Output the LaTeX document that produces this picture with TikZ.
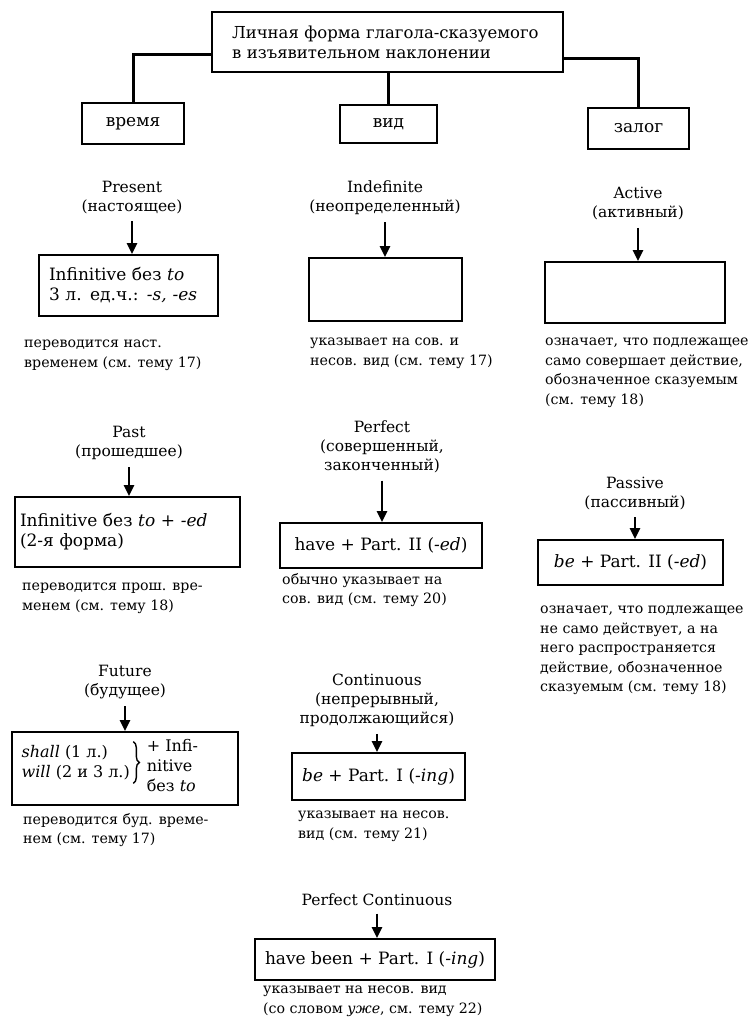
\documentclass[tikz,border=0pt]{standalone}
\usepackage{fontspec}
\setmainfont{DejaVu Serif}
\usetikzlibrary{arrows.meta,decorations.pathreplacing}

\tikzset{
  box/.style={draw, line width=1.8pt, inner xsep=10pt, inner ysep=0pt, font=\fontsize{17}{20}\selectfont},
  link/.style={line width=3pt},
  arr/.style={line width=2.4pt, shorten <=4pt, -{Triangle[length=11pt,width=10pt]}},
  lbl/.style={align=center, font=\fontsize{15.5}{19}\selectfont},
  desc/.style={anchor=north west, align=left, inner sep=0pt},
  intext/.style={anchor=west, align=left, font=\fontsize{16}{20}\selectfont},
}

\begin{document}
\begin{tikzpicture}[x=1pt,y=-1pt, every node/.style={font=\fontsize{14.2}{19.5}\selectfont}]
\useasboundingbox (0,0) rectangle (750,1032);

\node[box, minimum width=351pt, minimum height=60pt, text width=311pt, inner xsep=20pt, align=left, font=\fontsize{16.5}{20}\selectfont] (top) at (387.5,42) {Личная форма глагола-сказуемого\\в изъявительном наклонении};
\node[box, minimum width=102pt, minimum height=41pt] (vremya) at (133,123.5) {время};
\node[box, minimum width=97pt, minimum height=38pt] (vid) at (388.5,124) {вид};
\node[box, minimum width=101pt, minimum height=41pt] (zalog) at (638.5,128.5) {залог};
\draw[link] ([yshift=-13pt]top.west) -| (vremya.north);
\draw[link] ([yshift=-17pt]top.east) -| (zalog.north);
\draw[link] (top.south -| vid.north) -- (vid.north);

% время
\node[lbl] (present) at (132,197.5) {Present\\(настоящее)};
\node[box, minimum width=179pt, minimum height=61pt, text width=159pt, align=left] (presbox) at (128.5,285.5) {Infinitive без \textit{to}\\3 л. ед.ч.: \textit{-s, -es}};
\draw[arr] (present.south) -- (present.south |- presbox.north);
\node[desc] (presdesc) at (24,340) {переводится наст.\\временем (см. тему 17)};

\node[lbl] (past) at (129,443) {Past\\(прошедшее)};
\node[box, minimum width=225pt, minimum height=70pt, text width=215pt, inner xsep=5pt, align=left] (pastbox) at (127.5,532) {Infinitive без \textit{to} + \textit{-ed}\\(2-я форма)};
\draw[arr] (past.south) -- (past.south |- pastbox.north);
\node[desc] (pastdesc) at (22,583) {переводится прош. вре-\\менем (см. тему 18)};

\node[lbl] (future) at (125,682) {Future\\(будущее)};
\node[box, minimum width=226pt, minimum height=73pt] (futbox) at (125,768.5) {};
\node[intext] (futl) at ([xshift=7pt,yshift=6pt]futbox.west) {\textit{shall} (1 л.)\\\textit{will} (2 и 3 л.)};
\draw[line width=1.4pt, decorate, decoration={brace, amplitude=6pt}] (futl.north east) -- (futl.south east);
\node[intext] (futr) at ([xshift=10pt,yshift=3pt]futl.east |- futbox.west) {+ Infi-\\nitive\\без \textit{to}};
\draw[arr] (future.south) -- (future.south |- futbox.north);
\node[desc] (futdesc) at (23,813) {переводится буд. време-\\нем (см. тему 17)};

% вид
\node[lbl] (indef) at (385,197.5) {Indefinite\\(неопределенный)};
\node[box, minimum width=153pt, minimum height=63pt] (indefbox) at (385.5,289.5) {};
\draw[arr] (indef.south) -- (indef.south |- indefbox.north);
\node[desc] (indefdesc) at (310,338) {указывает на сов. и\\несов. вид (см. тему 17)};

\node[lbl] (perf) at (382,447) {Perfect\\(совершенный,\\законченный)};
\node[box, minimum width=202pt, minimum height=45pt] (perfbox) at (381,545.5) {have + Part. II (\textit{-ed})};
\draw[arr] (perf.south) -- (perf.south |- perfbox.north);
\node[desc] (perfdesc) at (282,573) {обычно указывает на\\сов. вид (см. тему 20)};

\node[lbl] (cont) at (377,700) {Continuous\\(непрерывный,\\продолжающийся)};
\node[box, minimum width=163pt, minimum height=47pt] (contbox) at (378.5,776.5) {\textit{be} + Part. I (\textit{-ing})};
\draw[arr] (cont.south) -- (cont.south |- contbox.north);
\node[desc] (contdesc) at (298,811) {указывает на несов.\\вид (см. тему 21)};

\node[lbl] (perfcont) at (377,900) {Perfect Continuous};
\node[box, minimum width=226pt, minimum height=41pt] (pcbox) at (375,959.5) {have been + Part. I (\textit{-ing})};
\draw[arr] (perfcont.south) -- (perfcont.south |- pcbox.north);
\node[desc] (pcdesc) at (263,986) {указывает на несов. вид\\(со словом \textit{уже}, см. тему 22)};

% залог
\node[lbl] (active) at (638,204) {Active\\(активный)};
\node[box, minimum width=180pt, minimum height=61pt] (actbox) at (635,292.5) {};
\draw[arr] (active.south) -- (active.south |- actbox.north);
\node[desc] (actdesc) at (545,338) {означает, что подлежащее\\само совершает действие,\\обозначенное сказуемым\\(см. тему 18)};

\node[lbl] (passive) at (635,493.5) {Passive\\(пассивный)};
\node[box, minimum width=185pt, minimum height=45pt] (passbox) at (630.5,562.5) {\textit{be} + Part. II (\textit{-ed})};
\draw[arr] (passive.south) -- (passive.south |- passbox.north);
\node[desc] (passdesc) at (540,606) {означает, что подлежащее\\не само действует, а на\\него распространяется\\действие, обозначенное\\сказуемым (см. тему 18)};
\end{tikzpicture}
\end{document}
